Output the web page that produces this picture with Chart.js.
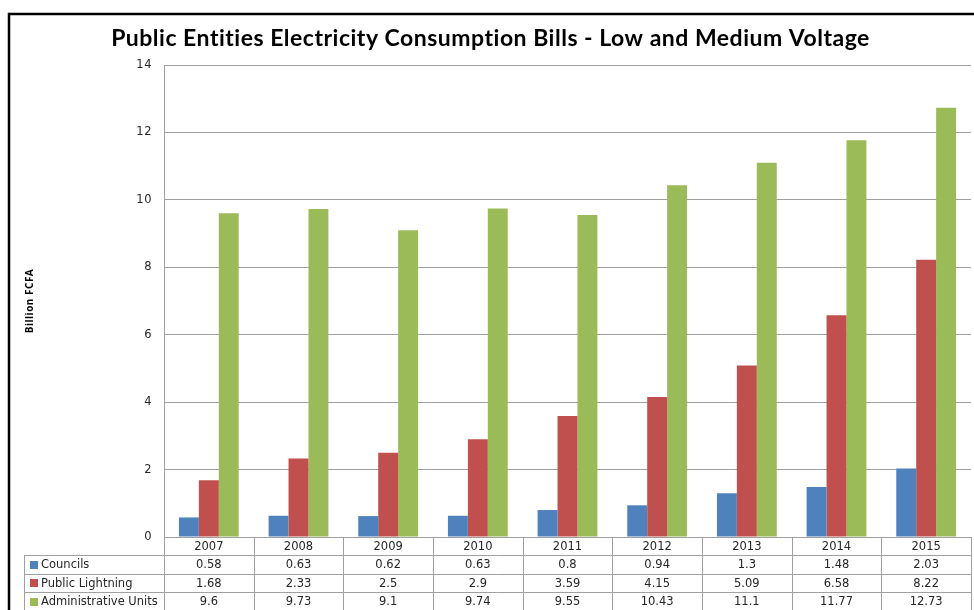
<!DOCTYPE html>
<html>
<head>
<meta charset="utf-8">
<script src="https://cdn.jsdelivr.net/npm/chart.js@4.4.1/dist/chart.umd.min.js"></script>
<style>
html,body{margin:0;padding:0;background:#fff;}
#wrap{position:relative;width:974px;height:610px;}
</style>
</head>
<body>
<div id="wrap"><canvas id="c" width="974" height="610"></canvas></div>
<script>
const years = ['2007','2008','2009','2010','2011','2012','2013','2014','2015'];
const councils = [0.58,0.63,0.62,0.63,0.8,0.94,1.3,1.48,2.03];
const publicLightning = [1.68,2.33,2.5,2.9,3.59,4.15,5.09,6.58,8.22];
const adminUnits = [9.6,9.73,9.1,9.74,9.55,10.43,11.1,11.77,12.73];
const seriesNames = ['Councils','Public Lightning','Administrative Units'];
const seriesColors = ['#4F81BD','#C0504D','#9BBB59'];
const yTicks = {min:0, max:14, step:2};
const titleText = 'Public Entities Electricity Consumption Bills - Low and Medium Voltage';
const yTitle = 'Billion FCFA';

const gridColor = '#A0A0A0';
const textFont = '11.5px "DejaVu Sans"';

const framePlugin = {
  id:'frame',
  beforeDraw(chart){
    const ctx = chart.ctx;
    ctx.fillStyle='#fff';
    ctx.fillRect(0,0,chart.width,chart.height);
    ctx.letterSpacing = '0.5px';
  },
  beforeDatasetsDraw(chart){
    chart.ctx.letterSpacing = '0px';
  },
  afterDraw(chart){
    const ctx = chart.ctx;
    const xs = chart.scales.x;
    const ca = chart.chartArea;
    const n = years.length;
    const cw = xs.width / n;
    const rowH = 18.3;
    const top = ca.bottom;
    const labelLeft = 24;
    const series = [councils, publicLightning, adminUnits];
    ctx.save();
    ctx.letterSpacing = '0px';
    ctx.strokeStyle = gridColor;
    ctx.lineWidth = 1;
    for (let i=0;i<=n;i++){
      const x = Math.round(xs.getPixelForValue(0) - cw/2 + i*cw) + 0.5;
      ctx.beginPath(); ctx.moveTo(x, top); ctx.lineTo(x, top + rowH*4); ctx.stroke();
    }
    ctx.beginPath(); ctx.moveTo(labelLeft+0.5, top+rowH); ctx.lineTo(labelLeft+0.5, top+rowH*4); ctx.stroke();
    for (let r=1;r<=4;r++){
      const y = Math.round(top + r*rowH) + 0.5;
      ctx.beginPath(); ctx.moveTo(labelLeft, y); ctx.lineTo(xs.right, y); ctx.stroke();
    }
    ctx.font = textFont;
    ctx.fillStyle = '#262626';
    ctx.textBaseline = 'middle';
    ctx.textAlign = 'center';
    years.forEach((yr,i)=>{
      ctx.fillText(yr, xs.getPixelForValue(i), top + rowH*0.5 + 1);
    });
    series.forEach((arr,r)=>{
      const cy = top + rowH*(r+1.5) + 1;
      arr.forEach((v,i)=>{
        ctx.textAlign='center';
        ctx.fillStyle='#262626';
        ctx.fillText(String(v), xs.getPixelForValue(i), cy);
      });
      ctx.fillStyle = seriesColors[r];
      ctx.fillRect(30, Math.round(cy-4.5), 8, 8);
      ctx.fillStyle='#262626';
      ctx.textAlign='left';
      ctx.fillText(seriesNames[r], 41, cy);
    });
    ctx.strokeStyle = '#000';
    ctx.lineWidth = 2.5;
    ctx.strokeRect(9, 14, chart.width + 20, chart.height + 20);
    ctx.restore();
  }
};

new Chart(document.getElementById('c'), {
  type:'bar',
  data:{
    labels: years,
    datasets:[
      {label:seriesNames[0], data:councils, backgroundColor:seriesColors[0]},
      {label:seriesNames[1], data:publicLightning, backgroundColor:seriesColors[1]},
      {label:seriesNames[2], data:adminUnits, backgroundColor:seriesColors[2]}
    ]
  },
  options:{
    responsive:false,
    animation:false,
    layout:{padding:{left:10, right:3, top:0, bottom:73}},
    categoryPercentage: 0.667,
    barPercentage: 1.0,
    plugins:{
      legend:{display:false},
      tooltip:{enabled:false},
      title:{display:true, text:titleText, color:'#000',
        font:{family:'Lato', size:23, weight:'bold', lineHeight:1.2}, padding:{top:25, bottom:12.4}}
    },
    scales:{
      x:{display:false, grid:{display:false}},
      y:{
        min:yTicks.min, max:yTicks.max,
        ticks:{stepSize:yTicks.step, color:'#262626', font:{family:'DejaVu Sans', size:11.5}, padding:12},
        grid:{color:gridColor, drawTicks:false, lineWidth:1},
        border:{display:true, color:gridColor},
        title:{display:true, text:yTitle, color:'#000', font:{family:'Open Sans', size:10, weight:'bold'}, padding:{top:14, bottom:0}},
        afterFit(scale){ scale.width = 154; }
      }
    }
  },
  plugins:[framePlugin]
});
</script>
</body>
</html>
